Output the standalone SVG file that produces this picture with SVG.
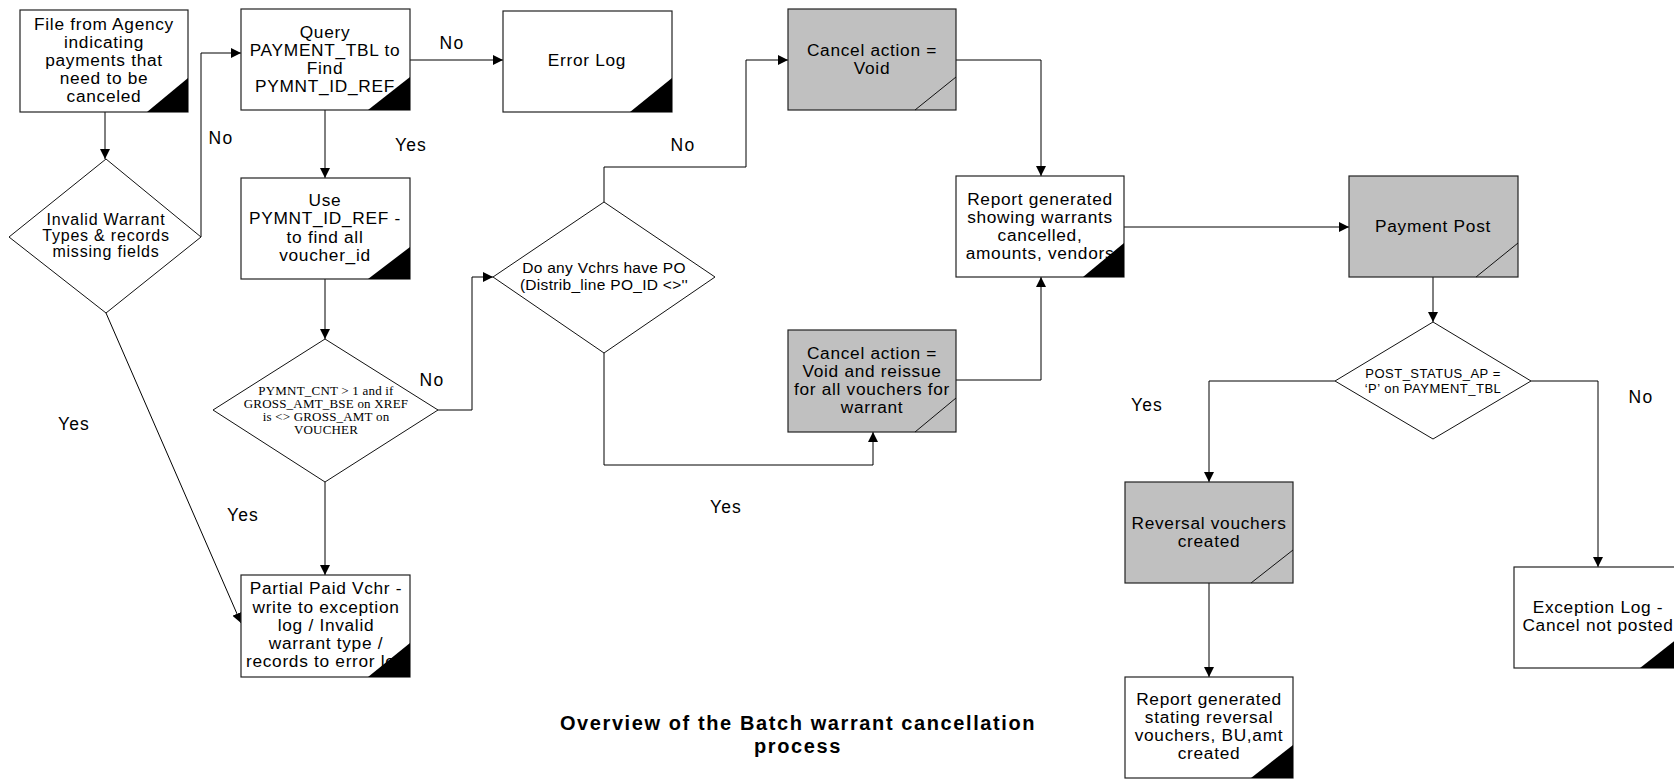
<svg xmlns="http://www.w3.org/2000/svg" width="1674" height="780" viewBox="0 0 1674 780">
<defs>
<marker id="arr" viewBox="0 0 10 10" refX="10" refY="5" markerWidth="10" markerHeight="10" markerUnits="userSpaceOnUse" orient="auto">
<path d="M0,0 L10,5 L0,10 z" fill="#000"/>
</marker>
</defs>
<style>
.box{fill:#fff;stroke:#222;stroke-width:1.2}
.gbox{fill:#c0c0c0;stroke:#222;stroke-width:1.2}
.dia{fill:#fff;stroke:#111;stroke-width:1}
.tri{fill:#000}
.diag{stroke:#111;stroke-width:1;fill:none}
.t{font-family:"Liberation Sans",Arial,sans-serif;font-size:17.3px;letter-spacing:0.7px;fill:#000;text-anchor:middle}
.td{font-family:"Liberation Sans",Arial,sans-serif;font-size:16px;letter-spacing:0.8px;fill:#000;text-anchor:middle}
.ts{font-family:"Liberation Serif","Times New Roman",serif;font-size:13px;letter-spacing:0.2px;fill:#000;text-anchor:middle}
.tm{font-family:"Liberation Sans",Arial,sans-serif;font-size:15.5px;letter-spacing:0.3px;fill:#000;text-anchor:middle}
.tx{font-family:"Liberation Sans",Arial,sans-serif;font-size:13px;letter-spacing:0.5px;fill:#000;text-anchor:middle}
.lbl{font-family:"Liberation Sans",Arial,sans-serif;font-size:17.5px;letter-spacing:1.2px;fill:#000;text-anchor:middle}
.title{font-family:"Liberation Sans",Arial,sans-serif;font-size:20px;font-weight:bold;fill:#000;text-anchor:middle;letter-spacing:1.6px}
.c{fill:none;stroke:#000;stroke-width:1;marker-end:url(#arr)}
</style>
<rect width="1674" height="780" fill="#fff"/>

<g id="connectors">
<path class="c" d="M105,112 V159"/>
<path class="c" d="M201,237 V53 H241"/>
<path class="c" d="M410,60 H503"/>
<path class="c" d="M325,110 V178"/>
<path class="c" d="M325,279 V339"/>
<path class="c" d="M325,482 V575"/>
<path class="c" d="M106,313 L241,623"/>
<path class="c" d="M438,410 H472 V277 H493"/>
<path class="c" d="M604,202 V167 H746 V60 H788"/>
<path class="c" d="M604,353 V465 H873 V432"/>
<path class="c" d="M956,60 H1041 V176"/>
<path class="c" d="M956,380 H1041 V277"/>
<path class="c" d="M1124,227 H1349"/>
<path class="c" d="M1433,277 V322"/>
<path class="c" d="M1335,381 H1209 V482"/>
<path class="c" d="M1531,381 H1598 V567"/>
<path class="c" d="M1209,583 V677"/>
<text class="lbl" x="221" y="144">No</text>
<text class="lbl" x="452" y="49">No</text>
<text class="lbl" x="411" y="151">Yes</text>
<text class="lbl" x="74" y="430">Yes</text>
<text class="lbl" x="243" y="521">Yes</text>
<text class="lbl" x="432" y="386">No</text>
<text class="lbl" x="683" y="151">No</text>
<text class="lbl" x="726" y="513">Yes</text>
<text class="lbl" x="1147" y="411">Yes</text>
<text class="lbl" x="1641" y="403">No</text>
</g>

<g id="file">
<rect class="box" x="20" y="10" width="168" height="102"/>
<text class="t"><tspan x="104" y="30">File from Agency</tspan><tspan x="104" y="48">indicating</tspan><tspan x="104" y="66">payments that</tspan><tspan x="104" y="84">need to be</tspan><tspan x="104" y="102">canceled</tspan></text>
<path class="tri" d="M147,112 H188 V78 z"/>
</g>

<g id="query">
<rect class="box" x="241" y="9" width="169" height="101"/>
<text class="t"><tspan x="325" y="38">Query</tspan><tspan x="325" y="56">PAYMENT_TBL to</tspan><tspan x="325" y="74">Find</tspan><tspan x="325" y="92">PYMNT_ID_REF</tspan></text>
<path class="tri" d="M368,110 H410 V77 z"/>
</g>

<g id="errorlog">
<rect class="box" x="503" y="11" width="169" height="101"/>
<text class="t" x="587" y="66">Error Log</text>
<path class="tri" d="M630,112 H672 V78 z"/>
</g>

<g id="invalid">
<path class="dia" d="M106,159 L201,237 L106,313 L9,237 z"/>
<text class="td"><tspan x="106" y="225">Invalid Warrant</tspan><tspan x="106" y="241">Types &amp; records</tspan><tspan x="106" y="257">missing fields</tspan></text>
</g>

<g id="use">
<rect class="box" x="241" y="178" width="169" height="101"/>
<text class="t"><tspan x="325" y="206">Use</tspan><tspan x="325" y="224">PYMNT_ID_REF -</tspan><tspan x="325" y="243">to find all</tspan><tspan x="325" y="261">voucher_id</tspan></text>
<path class="tri" d="M368,279 H410 V247 z"/>
</g>

<g id="pymntcnt">
<path class="dia" d="M325,339 L438,410 L325,482 L213,410 z"/>
<text class="ts"><tspan x="326" y="394.5">PYMNT_CNT &gt; 1 and if</tspan><tspan x="326" y="407.5">GROSS_AMT_BSE on XREF</tspan><tspan x="326" y="420.5">is &lt;&gt; GROSS_AMT on</tspan><tspan x="326" y="433.5">VOUCHER</tspan></text>
</g>

<g id="partial">
<rect class="box" x="241" y="575" width="169" height="102"/>
<text class="t"><tspan x="326" y="594">Partial Paid Vchr -</tspan><tspan x="326" y="613">write to exception</tspan><tspan x="326" y="631">log / Invalid</tspan><tspan x="326" y="649">warrant type /</tspan><tspan x="326" y="667">records to error log</tspan></text>
<path class="tri" d="M368,677 H410 V643 z"/>
</g>

<g id="anypo">
<path class="dia" d="M604,202 L715,277 L604,353 L493,277 z"/>
<text class="tm"><tspan x="604" y="273">Do any Vchrs have PO</tspan><tspan x="604" y="290">(Distrib_line PO_ID &lt;&gt;''</tspan></text>
</g>

<g id="cancelvoid">
<rect class="gbox" x="788" y="9" width="168" height="101"/>
<text class="t"><tspan x="872" y="56">Cancel action =</tspan><tspan x="872" y="74">Void</tspan></text>
<path class="diag" d="M915,110 L956,77"/>
</g>

<g id="cancelreissue">
<rect class="gbox" x="788" y="330" width="168" height="102"/>
<text class="t"><tspan x="872" y="359">Cancel action =</tspan><tspan x="872" y="377">Void and reissue</tspan><tspan x="872" y="395">for all vouchers for</tspan><tspan x="872" y="413">warrant</tspan></text>
<path class="diag" d="M915,432 L956,398"/>
</g>

<g id="report">
<rect class="box" x="956" y="176" width="168" height="101"/>
<text class="t"><tspan x="1040" y="205">Report generated</tspan><tspan x="1040" y="223">showing warrants</tspan><tspan x="1040" y="241">cancelled,</tspan><tspan x="1040" y="259">amounts, vendors</tspan></text>
<path class="tri" d="M1083,277 H1124 V243 z"/>
</g>

<g id="paymentpost">
<rect class="gbox" x="1349" y="176" width="169" height="101"/>
<text class="t" x="1433" y="232">Payment Post</text>
<path class="diag" d="M1476,277 L1518,243"/>
</g>

<g id="poststatus">
<path class="dia" d="M1433,322 L1531,381 L1433,439 L1335,381 z"/>
<text class="tx"><tspan x="1433" y="378">POST_STATUS_AP =</tspan><tspan x="1433" y="393">‘P’ on PAYMENT_TBL</tspan></text>
</g>

<g id="reversal">
<rect class="gbox" x="1125" y="482" width="168" height="101"/>
<text class="t"><tspan x="1209" y="529">Reversal vouchers</tspan><tspan x="1209" y="547">created</tspan></text>
<path class="diag" d="M1251,583 L1293,550"/>
</g>

<g id="report2">
<rect class="box" x="1125" y="677" width="168" height="101"/>
<text class="t"><tspan x="1209" y="705">Report generated</tspan><tspan x="1209" y="723">stating reversal</tspan><tspan x="1209" y="741">vouchers, BU,amt</tspan><tspan x="1209" y="759">created</tspan></text>
<path class="tri" d="M1251,778 H1293 V745 z"/>
</g>

<g id="exception">
<rect class="box" x="1514" y="567" width="168" height="101"/>
<text class="t"><tspan x="1598" y="613">Exception Log -</tspan><tspan x="1598" y="631">Cancel not posted</tspan></text>
<path class="tri" d="M1640,668 H1682 V635 z"/>
</g>

<g id="title">
<text class="title"><tspan x="798" y="730">Overview of the Batch warrant cancellation</tspan><tspan x="798" y="753">process</tspan></text>
</g>
</svg>
